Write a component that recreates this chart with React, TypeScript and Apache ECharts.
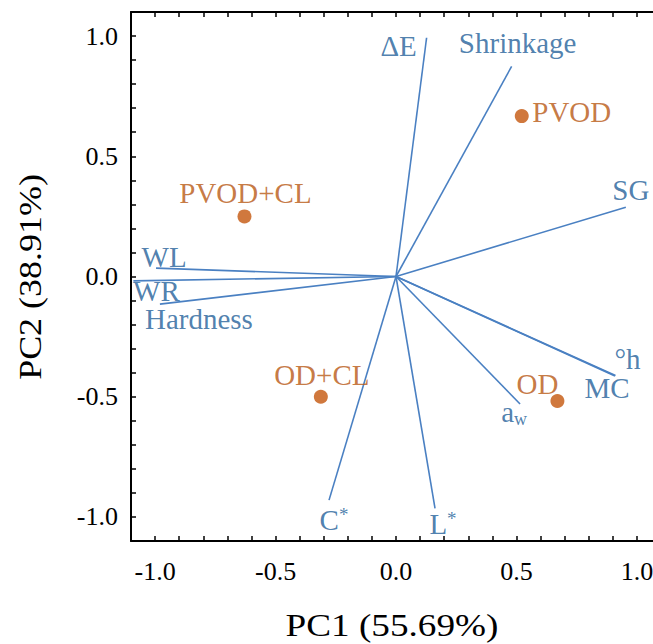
import React, { useEffect, useRef } from "react";
import * as echarts from "echarts";

// Loading vectors (PC1, PC2)
const vectorNames = ["ΔE", "Shrinkage", "SG", "WL", "WR", "Hardness", "°h", "MC", "aw", "C*", "L*"];
const vectorLabels = ["ΔE", "Shrinkage", "SG", "WL", "WR", "Hardness", "°h", "MC", "a{sub|w}", "C{sup|*}", "L{sup|*}"];
const vectorPC1 = [0.127, 0.48, 0.954, -0.996, -1.09, -0.98, 0.911, 0.909, 0.515, -0.278, 0.162];
const vectorPC2 = [0.993, 0.874, 0.288, 0.035, -0.018, -0.115, -0.412, -0.414, -0.53, -0.93, -0.964];

// Sample scores (PC1, PC2)
const sampleNames = ["PVOD", "PVOD+CL", "OD+CL", "OD"];
const samplePC1 = [0.522, -0.629, -0.312, 0.67];
const samplePC2 = [0.667, 0.25, -0.5, -0.518];

// Axis tick labels
const tickLabels = ["-1.0", "-0.5", "0.0", "0.5", "1.0"];

// label placement (pixel offsets from point) — styling only
const vectorLabelOffsets: number[][] = [
  [-28, 8], [6, -23], [5, -17], [8, -11], [23, 10], [39, 15], [12, -17], [-8, 12], [-6, 8], [5, 20], [8, 16],
];
const sampleLabelOffsets: number[][] = [[50, -4], [1, -23], [1, -22], [-20, -17]];

const FONT = "Liberation Serif, Times New Roman, DejaVu Serif, serif";
const LINE_BLUE = "#4a80c2";
const TEXT_BLUE = "#245f99";
const ORANGE_TEXT = "#b85813";
const ORANGE_DOT = "#c4560c";

export default function App() {
  const ref = useRef<HTMLDivElement>(null);
  useEffect(() => {
    if (!ref.current) return;
    const chart = echarts.init(ref.current, null, { renderer: "svg" });
    const fmt = (v: number) => {
      const t = Math.round(v * 10);
      if (t % 5 !== 0) return "";
      const s = (t / 10).toFixed(1);
      return tickLabels.includes(s) ? s : s === "-0.0" ? "0.0" : "";
    };
    const axisCommon = (pos: string, showLabel: boolean) => ({
      type: "value",
      min: -1.1,
      max: 1.1,
      interval: 0.1,
      position: pos,
      axisLine: { show: true, onZero: false, lineStyle: { color: "#000", width: 2 } },
      axisTick: { show: true, inside: true, length: 5, lineStyle: { color: "#000", width: 1.5 } },
      axisLabel: { show: showLabel, formatter: fmt, fontFamily: FONT, fontSize: 26, color: "#000" },
      splitLine: { show: false },
    });
    const xb: any = axisCommon("bottom", true);
    xb.axisLabel.margin = 17;
    const yl: any = axisCommon("left", true);
    yl.axisLabel.margin = 13;
    const vectorSeries = vectorNames.map((n, i) => ({
      type: "line",
      name: n,
      silent: true,
      symbol: "none",
      data: [[0, 0], [vectorPC1[i], vectorPC2[i]]],
      lineStyle: { color: LINE_BLUE, width: 1.6 },
      z: 2,
    }));
    const option: any = {
      animation: false,
      textStyle: { fontFamily: FONT },
      grid: { left: 131, top: 12, width: 530, height: 529 },
      xAxis: [xb, axisCommon("top", false)],
      yAxis: [yl, axisCommon("right", false)],
      graphic: [
        {
          type: "text",
          x: 392,
          y: 625,
          scaleX: 1.2,
          style: { text: "PC1 (55.69%)", fontFamily: FONT, fontSize: 31, fill: "#000", textAlign: "center", textVerticalAlign: "middle" },
        },
        {
          type: "text",
          x: 30,
          y: 277,
          rotation: Math.PI / 2,
          scaleX: 1.16,
          style: { text: "PC2 (38.91%)", fontFamily: FONT, fontSize: 31, fill: "#000", textAlign: "center", textVerticalAlign: "middle" },
        },
      ],
      series: [
        ...vectorSeries,
        {
          type: "scatter",
          name: "vectorLabels",
          silent: true,
          symbolSize: 1,
          itemStyle: { color: "transparent" },
          data: vectorNames.map((n, i) => ({
            name: n,
            value: [vectorPC1[i], vectorPC2[i]],
            label: { formatter: vectorLabels[i], offset: vectorLabelOffsets[i] },
          })),
          label: {
            show: true,
            position: "inside",
            align: "center",
            verticalAlign: "middle",
            color: TEXT_BLUE,
            fontFamily: FONT,
            fontSize: 29,
            rich: {
              sub: { fontSize: 18, color: TEXT_BLUE, fontFamily: FONT, padding: [14, 0, 0, 0] },
              sup: { fontSize: 19, color: TEXT_BLUE, fontFamily: FONT, padding: [0, 0, 12, 0] },
            },
          },
          z: 3,
        },
        {
          type: "scatter",
          name: "samples",
          silent: true,
          symbolSize: 14,
          itemStyle: { color: ORANGE_DOT },
          data: sampleNames.map((n, i) => ({
            name: n,
            value: [samplePC1[i], samplePC2[i]],
            label: { offset: sampleLabelOffsets[i] },
          })),
          label: {
            show: true,
            position: "inside",
            align: "center",
            verticalAlign: "middle",
            formatter: (p: any) => p.name,
            color: ORANGE_TEXT,
            fontFamily: FONT,
            fontSize: 29,
          },
          z: 4,
        },
      ],
    };
    chart.setOption(option);
    return () => chart.dispose();
  }, []);
  return (
    <div style={{ position: "fixed", left: 0, top: 0, width: 653, height: 644, overflow: "hidden", background: "#fff" }}>
      <div ref={ref} style={{ width: 700, height: 644 }} />
    </div>
  );
}
